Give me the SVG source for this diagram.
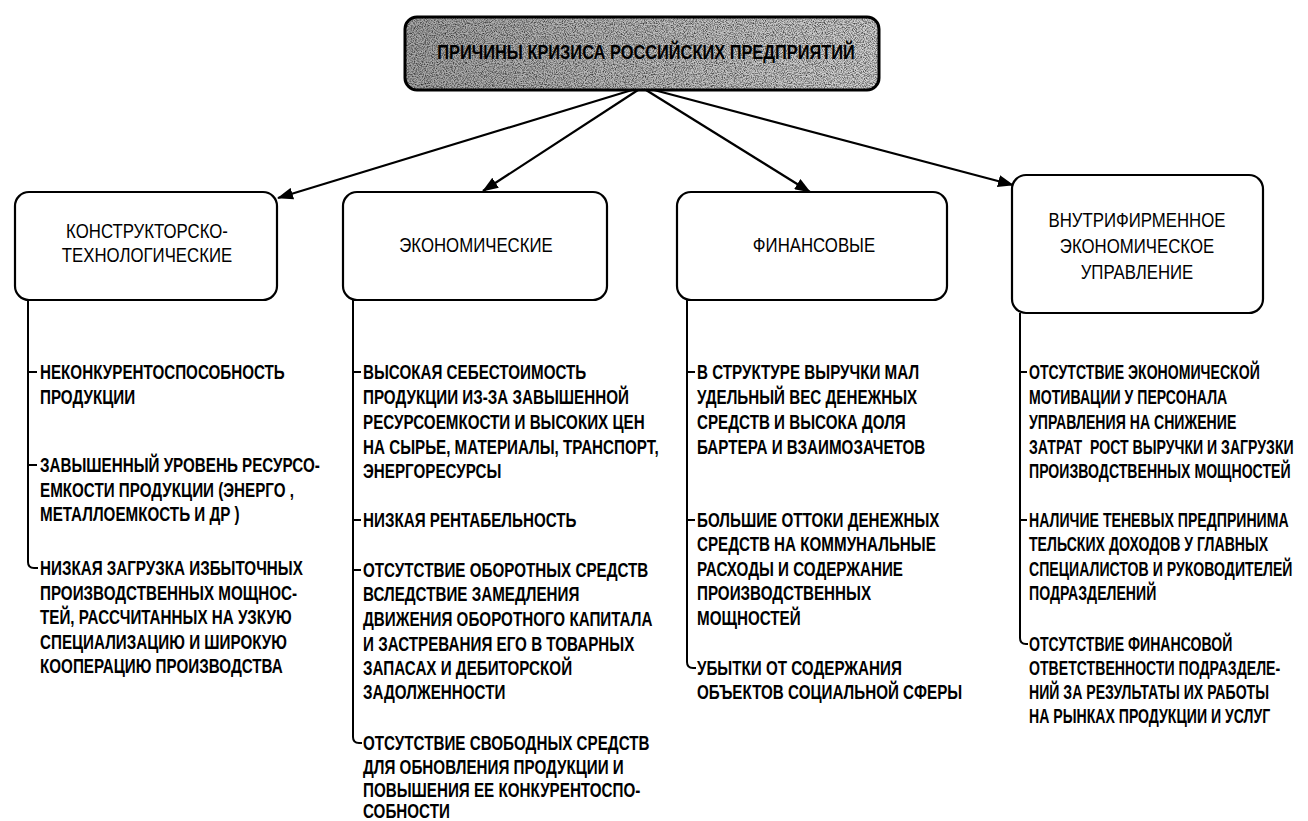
<svg xmlns="http://www.w3.org/2000/svg" width="1308" height="821" viewBox="0 0 1308 821">
<style>
.box{fill:#fff;stroke:#000;stroke-width:2.2}
.hd{font-family:"Liberation Sans",Arial,sans-serif;font-size:20px;fill:#000;text-anchor:middle}
.t{font-family:"Liberation Sans",Arial,sans-serif;font-size:20px;font-weight:bold;fill:#000}
.ttl{font-family:"Liberation Sans",Arial,sans-serif;font-size:20px;font-weight:bold;fill:#000;text-anchor:middle}
.ln{fill:none;stroke:#000;stroke-width:2}
.ar{fill:none;stroke:#000;stroke-width:2.2}
</style>
<defs>
<marker id="ah" markerWidth="16" markerHeight="12" refX="15" refY="6" orient="auto" markerUnits="userSpaceOnUse">
<path d="M0,0 L16,6 L0,12 z" fill="#000"/>
</marker>
<linearGradient id="tg" x1="0" x2="1" y1="0" y2="0">
<stop offset="0" stop-color="#a6a6a6"/>
<stop offset="1" stop-color="#d2d2d2"/>
</linearGradient>
<filter id="noise" x="0" y="0" width="1" height="1" color-interpolation-filters="sRGB">
<feTurbulence type="fractalNoise" baseFrequency="0.9" numOctaves="2" seed="7"/>
<feColorMatrix type="matrix" values="0 0 0 0 0  0 0 0 0 0  0 0 0 0 0  1.6 0 0 0 -0.62"/>
</filter>
<clipPath id="tclip"><rect x="405" y="17" width="474" height="73" rx="12"/></clipPath>
</defs>
<rect width="1308" height="821" fill="#fff"/>

<g id="title">
<rect x="405" y="17" width="474" height="73" rx="12" fill="url(#tg)"/>
<rect x="405" y="17" width="474" height="73" filter="url(#noise)" clip-path="url(#tclip)"/>
<rect x="405" y="17" width="474" height="73" rx="12" fill="none" stroke="#000" stroke-width="3"/>
<text class="ttl" x="0" y="59" transform="translate(646,0) scale(0.82,1)">ПРИЧИНЫ КРИЗИСА РОССИЙСКИХ ПРЕДПРИЯТИЙ</text>
</g>

<g id="connectors">
<path class="ar" d="M632,90 L278,198" marker-end="url(#ah)"/>
<path class="ar" d="M638,90 L483,191" marker-end="url(#ah)"/>
<path class="ar" d="M646,90 L810,192" marker-end="url(#ah)"/>
<path class="ar" d="M654,90 L1013,185" marker-end="url(#ah)"/>
<path class="ln" d="M28,300 V562 Q28,568 34,568 H38 M28,372 H37 M28,465 H37"/>
<path class="ln" d="M353,300 V737 Q353,743 359,743 H362 M353,372 H361 M353,520 H361 M353,570 H361"/>
<path class="ln" d="M687,300 V662 Q687,668 693,668 H696 M687,372 H695 M687,520 H695"/>
<path class="ln" d="M1020,313 V638 Q1020,644 1026,644 H1028 M1020,372 H1027 M1020,520 H1027"/>
</g>

<g id="node-constr">
<rect class="box" x="15" y="192" width="262" height="108" rx="14"/>
<g transform="translate(147,0) scale(0.84,1)">
<text class="hd" x="0" y="238">КОНСТРУКТОРСКО-</text>
<text class="hd" x="0" y="262">ТЕХНОЛОГИЧЕСКИЕ</text>
</g>
</g>
<g id="node-econ">
<rect class="box" x="343" y="192" width="264" height="108" rx="14"/>
<text class="hd" x="0" y="252" transform="translate(476,0) scale(0.84,1)">ЭКОНОМИЧЕСКИЕ</text>
</g>
<g id="node-fin">
<rect class="box" x="677" y="192" width="270" height="108" rx="14"/>
<text class="hd" x="0" y="252" transform="translate(814,0) scale(0.84,1)">ФИНАНСОВЫЕ</text>
</g>
<g id="node-mgmt">
<rect class="box" x="1012" y="175" width="251" height="138" rx="14"/>
<g transform="translate(1137,0) scale(0.84,1)">
<text class="hd" x="0" y="227">ВНУТРИФИРМЕННОЕ</text>
<text class="hd" x="0" y="253">ЭКОНОМИЧЕСКОЕ</text>
<text class="hd" x="0" y="279">УПРАВЛЕНИЕ</text>
</g>
</g>

<g id="items-constr" transform="translate(40,0) scale(0.76,1)">
<text class="t" x="0" y="379">НЕКОНКУРЕНТОСПОСОБНОСТЬ</text>
<text class="t" x="0" y="404">ПРОДУКЦИИ</text>
<text class="t" x="0" y="472">ЗАВЫШЕННЫЙ УРОВЕНЬ РЕСУРСО-</text>
<text class="t" x="0" y="497">ЕМКОСТИ ПРОДУКЦИИ (ЭНЕРГО ,</text>
<text class="t" x="0" y="521">МЕТАЛЛОЕМКОСТЬ И ДР )</text>
<text class="t" x="0" y="575">НИЗКАЯ ЗАГРУЗКА ИЗБЫТОЧНЫХ</text>
<text class="t" x="0" y="600">ПРОИЗВОДСТВЕННЫХ МОЩНОС-</text>
<text class="t" x="0" y="624">ТЕЙ, РАССЧИТАННЫХ НА УЗКУЮ</text>
<text class="t" x="0" y="649">СПЕЦИАЛИЗАЦИЮ И ШИРОКУЮ</text>
<text class="t" x="0" y="673">КООПЕРАЦИЮ ПРОИЗВОДСТВА</text>
</g>

<g id="items-econ" transform="translate(363,0) scale(0.76,1)">
<text class="t" x="0" y="379">ВЫСОКАЯ СЕБЕСТОИМОСТЬ</text>
<text class="t" x="0" y="404">ПРОДУКЦИИ ИЗ-ЗА ЗАВЫШЕННОЙ</text>
<text class="t" x="0" y="429">РЕСУРСОЕМКОСТИ И ВЫСОКИХ ЦЕН</text>
<text class="t" x="0" y="454">НА СЫРЬЕ, МАТЕРИАЛЫ, ТРАНСПОРТ,</text>
<text class="t" x="0" y="478">ЭНЕРГОРЕСУРСЫ</text>
<text class="t" x="0" y="527">НИЗКАЯ РЕНТАБЕЛЬНОСТЬ</text>
<text class="t" x="0" y="577">ОТСУТСТВИЕ ОБОРОТНЫХ СРЕДСТВ</text>
<text class="t" x="0" y="601">ВСЛЕДСТВИЕ ЗАМЕДЛЕНИЯ</text>
<text class="t" x="0" y="626">ДВИЖЕНИЯ ОБОРОТНОГО КАПИТАЛА</text>
<text class="t" x="0" y="651">И ЗАСТРЕВАНИЯ ЕГО В ТОВАРНЫХ</text>
<text class="t" x="0" y="675">ЗАПАСАХ И ДЕБИТОРСКОЙ</text>
<text class="t" x="0" y="699">ЗАДОЛЖЕННОСТИ</text>
<text class="t" x="0" y="750">ОТСУТСТВИЕ СВОБОДНЫХ СРЕДСТВ</text>
<text class="t" x="0" y="774">ДЛЯ ОБНОВЛЕНИЯ ПРОДУКЦИИ И</text>
<text class="t" x="0" y="797">ПОВЫШЕНИЯ ЕЕ КОНКУРЕНТОСПО-</text>
<text class="t" x="0" y="818">СОБНОСТИ</text>
</g>

<g id="items-fin" transform="translate(697,0) scale(0.76,1)">
<text class="t" x="0" y="379">В СТРУКТУРЕ ВЫРУЧКИ МАЛ</text>
<text class="t" x="0" y="404">УДЕЛЬНЫЙ ВЕС ДЕНЕЖНЫХ</text>
<text class="t" x="0" y="429">СРЕДСТВ И ВЫСОКА ДОЛЯ</text>
<text class="t" x="0" y="454">БАРТЕРА И ВЗАИМОЗАЧЕТОВ</text>
<text class="t" x="0" y="527">БОЛЬШИЕ ОТТОКИ ДЕНЕЖНЫХ</text>
<text class="t" x="0" y="551">СРЕДСТВ НА КОММУНАЛЬНЫЕ</text>
<text class="t" x="0" y="576">РАСХОДЫ И СОДЕРЖАНИЕ</text>
<text class="t" x="0" y="600">ПРОИЗВОДСТВЕННЫХ</text>
<text class="t" x="0" y="625">МОЩНОСТЕЙ</text>
<text class="t" x="0" y="675">УБЫТКИ ОТ СОДЕРЖАНИЯ</text>
<text class="t" x="0" y="699">ОБЪЕКТОВ СОЦИАЛЬНОЙ СФЕРЫ</text>
</g>

<g id="items-mgmt" transform="translate(1029,0) scale(0.705,1)">
<text class="t" x="0" y="379">ОТСУТСТВИЕ ЭКОНОМИЧЕСКОЙ</text>
<text class="t" x="0" y="404">МОТИВАЦИИ У ПЕРСОНАЛА</text>
<text class="t" x="0" y="429">УПРАВЛЕНИЯ НА СНИЖЕНИЕ</text>
<text class="t" x="0" y="454" xml:space="preserve">ЗАТРАТ  РОСТ ВЫРУЧКИ И ЗАГРУЗКИ</text>
<text class="t" x="0" y="478">ПРОИЗВОДСТВЕННЫХ МОЩНОСТЕЙ</text>
<text class="t" x="0" y="527">НАЛИЧИЕ ТЕНЕВЫХ ПРЕДПРИНИМА</text>
<text class="t" x="0" y="551">ТЕЛЬСКИХ ДОХОДОВ У ГЛАВНЫХ</text>
<text class="t" x="0" y="576">СПЕЦИАЛИСТОВ И РУКОВОДИТЕЛЕЙ</text>
<text class="t" x="0" y="600">ПОДРАЗДЕЛЕНИЙ</text>
<text class="t" x="0" y="651">ОТСУТСТВИЕ ФИНАНСОВОЙ</text>
<text class="t" x="0" y="675">ОТВЕТСТВЕННОСТИ ПОДРАЗДЕЛЕ-</text>
<text class="t" x="0" y="699">НИЙ ЗА РЕЗУЛЬТАТЫ ИХ РАБОТЫ</text>
<text class="t" x="0" y="723">НА РЫНКАХ ПРОДУКЦИИ И УСЛУГ</text>
</g>
</svg>
